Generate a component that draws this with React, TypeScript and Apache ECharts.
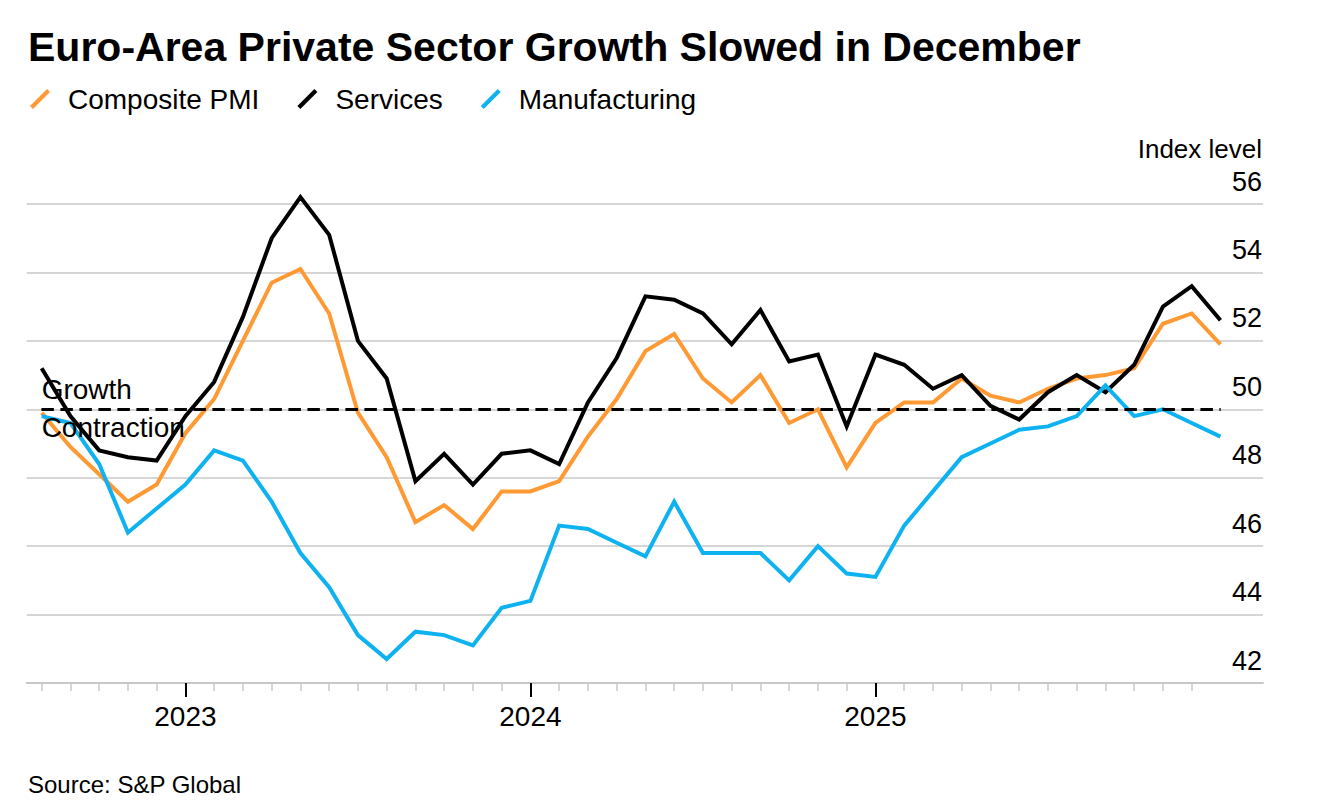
import React, { useEffect, useRef } from "react";
import * as echarts from "echarts";

// Month labels (end-of-month readings), July 2022 to December 2025
const months = [
  "2022-07", "2022-08", "2022-09", "2022-10", "2022-11", "2022-12",
  "2023-01", "2023-02", "2023-03", "2023-04", "2023-05", "2023-06",
  "2023-07", "2023-08", "2023-09", "2023-10", "2023-11", "2023-12",
  "2024-01", "2024-02", "2024-03", "2024-04", "2024-05", "2024-06",
  "2024-07", "2024-08", "2024-09", "2024-10", "2024-11", "2024-12",
  "2025-01", "2025-02", "2025-03", "2025-04", "2025-05", "2025-06",
  "2025-07", "2025-08", "2025-09", "2025-10", "2025-11", "2025-12",
];

const composite = [
  49.9, 48.9, 48.1, 47.3, 47.8, 49.3,
  50.3, 52.0, 53.7, 54.1, 52.8, 49.9, 48.6, 46.7, 47.2, 46.5, 47.6, 47.6,
  47.9, 49.2, 50.3, 51.7, 52.2, 50.9, 50.2, 51.0, 49.6, 50.0, 48.3, 49.6,
  50.2, 50.2, 50.9, 50.4, 50.2, 50.6, 50.9, 51.0, 51.2, 52.5, 52.8, 51.9,
];

const services = [
  51.2, 49.8, 48.8, 48.6, 48.5, 49.8,
  50.8, 52.7, 55.0, 56.2, 55.1, 52.0, 50.9, 47.9, 48.7, 47.8, 48.7, 48.8,
  48.4, 50.2, 51.5, 53.3, 53.2, 52.8, 51.9, 52.9, 51.4, 51.6, 49.5, 51.6,
  51.3, 50.6, 51.0, 50.1, 49.7, 50.5, 51.0, 50.5, 51.3, 53.0, 53.6, 52.6,
];

const manufacturing = [
  49.8, 49.6, 48.4, 46.4, 47.1, 47.8,
  48.8, 48.5, 47.3, 45.8, 44.8, 43.4, 42.7, 43.5, 43.4, 43.1, 44.2, 44.4,
  46.6, 46.5, 46.1, 45.7, 47.3, 45.8, 45.8, 45.8, 45.0, 46.0, 45.2, 45.1,
  46.6, 47.6, 48.6, 49.0, 49.4, 49.5, 49.8, 50.7, 49.8, 50.0, 49.6, 49.2,
];

const yearLabels = ["2023", "2024", "2025"];
const threshold = 50;

const BASE_YEAR = 2022;
// month "YYYY-MM" -> month count since start of base year, at month end
const toX = (m: string) => {
  const [y, mo] = m.split("-").map(Number);
  return (y - BASE_YEAR) * 12 + mo;
};
const yearToX = (y: string) => (Number(y) - BASE_YEAR) * 12;

const COLORS = { composite: "#ff9933", services: "#000000", manufacturing: "#0fb2f0" };
const FONT = "'Liberation Sans', Arial, Helvetica, sans-serif";

export default function App() {
  const ref = useRef<HTMLDivElement>(null);

  useEffect(() => {
    document.body.style.margin = "0";
    if (!ref.current) return;
    const chart = echarts.init(ref.current, undefined, { renderer: "svg" });

    const xs = months.map(toX);
    const firstX = xs[0];
    const lastX = xs[xs.length - 1];
    const minorTicks: number[] = [];
    for (let v = firstX; v < lastX; v++) minorTicks.push(v);
    const yearTicks = yearLabels.map(yearToX);
    const xMin = firstX - 0.52;
    const xMax = lastX + 1.48;

    const pair = (arr: number[]) => arr.map((v, i) => [xs[i], v]);

    const lineSeries = (name: string, data: number[], color: string) => ({
      name,
      type: "line",
      xAxisIndex: 0,
      yAxisIndex: 0,
      data: pair(data),
      showSymbol: false,
      symbol: "none",
      clip: false,
      lineStyle: { color, width: 4, join: "miter" },
      itemStyle: { color },
      emphasis: { disabled: true },
    });

    const option: any = {
      animation: false,
      textStyle: { fontFamily: FONT },
      title: {
        text: "Euro-Area Private Sector Growth Slowed in December",
        left: 28,
        top: 26,
        padding: 0,
        textStyle: { fontSize: 41, fontWeight: "bold", color: "#000", fontFamily: FONT },
      },
      legend: {
        left: 30,
        top: 84,
        padding: 0,
        itemWidth: 20,
        itemHeight: 20,
        itemGap: 38,
        selectedMode: false,
        icon: "path://M0,17 L17,0 L20,3 L3,20 Z",
        data: ["Composite PMI", "Services", "Manufacturing"],
        textStyle: { fontSize: 28, color: "#000", padding: [0, 0, 0, 13], lineHeight: 30, fontFamily: FONT },
      },
      grid: { left: 26.7, right: 75, top: 204, bottom: 127, containLabel: false, outerBoundsMode: "none" },
      xAxis: [
        {
          type: "value",
          min: xMin,
          max: xMax,
          position: "bottom",
          axisLine: { show: true, onZero: false, lineStyle: { color: "#c8c8c8", width: 2 } },
          axisTick: { show: true, customValues: minorTicks, length: 8, lineStyle: { color: "#c8c8c8", width: 1.5 } },
          axisLabel: { show: false },
          splitLine: { show: false },
        },
        {
          type: "value",
          min: xMin,
          max: xMax,
          position: "bottom",
          axisLine: { show: false, onZero: false },
          axisTick: { show: true, customValues: yearTicks, length: 14, lineStyle: { color: "#000", width: 2 } },
          axisLabel: {
            show: true,
            customValues: yearTicks,
            formatter: (v: number) => String(BASE_YEAR + Math.round(v / 12)),
            fontSize: 28,
            color: "#000",
            margin: 19,
            fontFamily: FONT,
          },
          splitLine: { show: false },
        },
      ],
      yAxis: {
        type: "value",
        position: "right",
        min: 42,
        max: 56,
        interval: 2,
        axisLine: { show: false },
        axisTick: { show: false },
        splitLine: { show: true, lineStyle: { color: "#c8c8c8", width: 1.5 } },
        axisLabel: {
          inside: true,
          margin: 1,
          verticalAlign: "bottom",
          padding: [0, 0, 9, 0],
          fontSize: 27,
          color: "#000",
          fontFamily: FONT,
        },
      },
      series: [
        lineSeries("Composite PMI", composite, COLORS.composite),
        lineSeries("Services", services, COLORS.services),
        lineSeries("Manufacturing", manufacturing, COLORS.manufacturing),
        {
          name: "threshold",
          type: "line",
          xAxisIndex: 0,
          yAxisIndex: 0,
          data: [],
          silent: true,
          markLine: {
            silent: true,
            symbol: ["none", "none"],
            animation: false,
            lineStyle: { color: "#000", width: 3, type: [12, 7], opacity: 1 },
            label: { fontSize: 28, color: "#000", fontFamily: FONT },
            emphasis: { disabled: true },
            data: [
              [
                {
                  coord: [firstX, threshold],
                  label: { show: true, formatter: "Growth", position: "insideStartTop", distance: [0, 6] },
                },
                { coord: [lastX, threshold] },
              ],
              [
                {
                  coord: [firstX, threshold],
                  label: { show: true, formatter: "Contraction", position: "insideStartBottom", distance: [0, 4] },
                },
                { coord: [lastX, threshold] },
              ],
            ],
          },
        },
      ],
      graphic: [
        {
          type: "text",
          right: 76,
          top: 136,
          style: { text: "Index level", fontSize: 26, fill: "#000", fontFamily: FONT },
        },
        {
          type: "text",
          left: 28,
          top: 772,
          style: { text: "Source: S&P Global", fontSize: 24, fill: "#000", fontFamily: FONT },
        },
      ],
    };

    chart.setOption(option);
    return () => chart.dispose();
  }, []);

  return <div ref={ref} style={{ width: 1338, height: 810 }} />;
}
